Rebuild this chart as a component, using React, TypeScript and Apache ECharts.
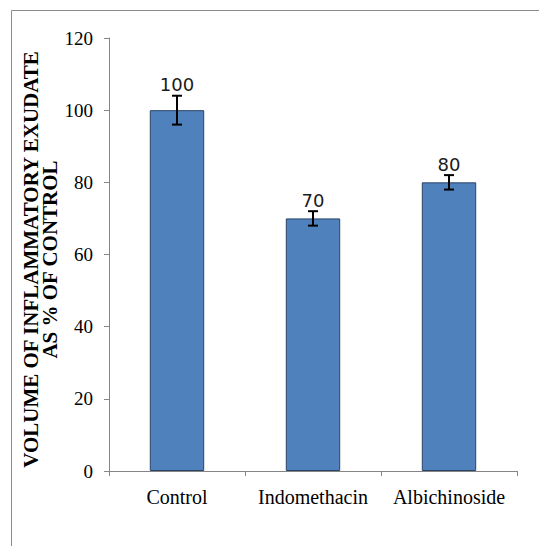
import React, { useEffect, useRef } from "react";
import * as echarts from "echarts";

const categories = ["Control", "Indomethacin", "Albichinoside"];
const values = [100, 70, 80];
const errors = [4, 2, 2];
const yTicks = { min: 0, max: 120, interval: 20 };

export default function App() {
  const ref = useRef<HTMLDivElement>(null);
  useEffect(() => {
    if (!ref.current) return;
    const chart = echarts.init(ref.current, null, { renderer: "svg" });
    const serif = "'Liberation Serif', 'Times New Roman', serif";
    const errData = values.map((v, i) => [i, v, errors[i]]);
    chart.setOption({
      animation: false,
      backgroundColor: "#ffffff",
      graphic: [
        {
          type: "rect",
          shape: { x: 11.5, y: 10.5, width: 620, height: 620 },
          style: { fill: "none", stroke: "#8c8c8c", lineWidth: 1 },
          silent: true,
        },
      ],
      grid: { left: 109, right: 22, top: 38, bottom: 75 },
      xAxis: {
        type: "category",
        data: categories,
        axisLine: { show: true, lineStyle: { color: "#868686", width: 1 } },
        axisTick: { show: true, length: 5, alignWithLabel: false, lineStyle: { color: "#868686" } },
        axisLabel: { fontFamily: serif, fontSize: 20, color: "#000", margin: 16, interval: 0 },
        splitLine: { show: false },
      },
      yAxis: {
        type: "value",
        min: yTicks.min,
        max: yTicks.max,
        interval: yTicks.interval,
        name: "VOLUME OF INFLAMMATORY EXUDATE\nAS % OF CONTROL",
        nameLocation: "middle",
        nameRotate: 90,
        nameGap: 50,
        nameMoveOverlap: false,
        nameTextStyle: {
          fontFamily: serif,
          fontWeight: "bold",
          fontSize: 21,
          lineHeight: 19,
          color: "#000",
          align: "center",
          padding: [0, 10, 0, 0],
        },
        axisLine: { show: true, lineStyle: { color: "#868686", width: 1 } },
        axisTick: { show: true, length: 5, inside: false, lineStyle: { color: "#868686" } },
        axisLabel: { fontFamily: serif, fontSize: 19, color: "#000", margin: 16 },
        splitLine: { show: false },
      },
      series: [
        {
          type: "bar",
          data: values,
          barWidth: "40%",
          itemStyle: { color: "#4F81BD", borderColor: "#2a4466", borderWidth: 1 },
        },
        {
          type: "custom",
          data: errData,
          z: 10,
          renderItem: (params: any, api: any) => {
            const i = api.value(0);
            const v = api.value(1);
            const e = api.value(2);
            const top = api.coord([i, v + e]);
            const bot = api.coord([i, v - e]);
            const hw = 5;
            const st = { stroke: "#000", lineWidth: 2 };
            return {
              type: "group",
              children: [
                { type: "line", shape: { x1: top[0], y1: top[1], x2: bot[0], y2: bot[1] }, style: st },
                { type: "line", shape: { x1: top[0] - hw, y1: top[1], x2: top[0] + hw, y2: top[1] }, style: st },
                { type: "line", shape: { x1: bot[0] - hw, y1: bot[1], x2: bot[0] + hw, y2: bot[1] }, style: st },
                {
                  type: "text",
                  style: {
                    x: top[0],
                    y: top[1] - 2,
                    text: String(v),
                    textAlign: "center",
                    textVerticalAlign: "bottom",
                    fontFamily: "'DejaVu Sans', Verdana, sans-serif",
                    fontSize: 18,
                    fill: "#1a1a1a",
                  },
                },
              ],
            };
          },
        },
      ],
    });
    return () => chart.dispose();
  }, []);
  return (
    <div
      ref={ref}
      style={{ position: "fixed", left: 0, top: 0, width: 539, height: 546, background: "#fff" }}
    />
  );
}
